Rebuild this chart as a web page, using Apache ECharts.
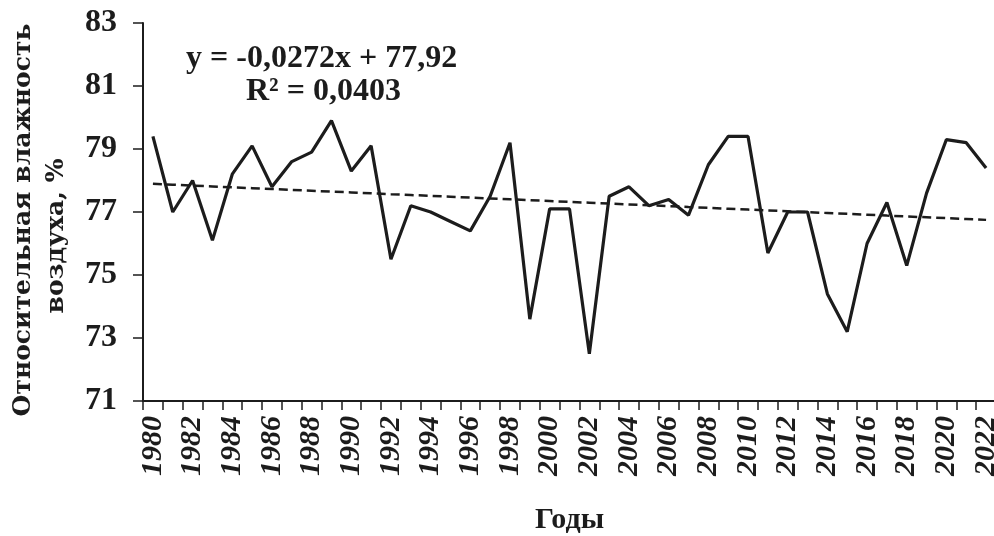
<!DOCTYPE html>
<html>
<head>
<meta charset="utf-8">
<style>
  html, body { margin: 0; padding: 0; background: #fff; }
  #chart { width: 994px; height: 536px; }
</style>
<script src="https://cdn.jsdelivr.net/npm/echarts@6/dist/echarts.min.js"></script>
</head>
<body>
<div id="chart"></div>
<script>
// Years of observation
const years = [
  '1980','1981','1982','1983','1984','1985','1986','1987','1988','1989',
  '1990','1991','1992','1993','1994','1995','1996','1997','1998','1999',
  '2000','2001','2002','2003','2004','2005','2006','2007','2008','2009',
  '2010','2011','2012','2013','2014','2015','2016','2017','2018','2019',
  '2020','2021','2022'
];

// Mean annual relative air humidity, %
const humidity = [
  79.4, 77.0, 78.0, 76.1, 78.2, 79.1, 77.8, 78.6, 78.9, 79.9,
  78.3, 79.1, 75.5, 77.2, 77.0, 76.7, 76.4, 77.5, 79.2, 73.6,
  77.1, 77.1, 72.5, 77.5, 77.8, 77.2, 77.4, 76.9, 78.5, 79.4,
  79.4, 75.7, 77.0, 77.0, 74.4, 73.2, 76.0, 77.3, 75.3, 77.6,
  79.3, 79.2, 78.4
];

// Linear trend, as given by its equation (x = 1 for the first year)
const trendSlope = -0.0272;
const trendIntercept = 77.92;
const trendEquation = 'y = -0,0272x + 77,92';
const trendR2 = 'R² = 0,0403';

// Value axis range
const yMin = 71, yMax = 83, yStep = 2;

const trend = years.map((_, i) => +(trendIntercept + trendSlope * (i + 1)).toFixed(3));

const serif = '"Liberation Serif", "Times New Roman", serif';
const ink = '#1c1c1c';

const chart = echarts.init(document.getElementById('chart'), null, { renderer: 'canvas' });

chart.setOption({
  backgroundColor: '#ffffff',
  animation: false,
  grid: {
    left: 143, top: 23, width: 853, height: 378,
    containLabel: false,
    outerBoundsMode: 'none'
  },
  xAxis: {
    type: 'category',
    data: years,
    boundaryGap: true,
    name: 'Годы',
    nameLocation: 'middle',
    nameGap: 104,
    nameTextStyle: { fontFamily: serif, fontWeight: 'bold', fontSize: 30, color: ink },
    axisLine: { lineStyle: { color: ink, width: 2 } },
    axisTick: { show: true, interval: 0, length: 9, lineStyle: { color: ink, width: 1.5 } },
    axisLabel: {
      interval: 1,
      rotate: 90,
      margin: 15,
      fontFamily: serif,
      fontStyle: 'italic',
      fontWeight: 'bold',
      fontSize: 30,
      color: ink
    },
    splitLine: { show: false }
  },
  yAxis: {
    type: 'value',
    min: yMin,
    max: yMax,
    interval: yStep,
    axisLine: { show: true, lineStyle: { color: ink, width: 2 } },
    axisTick: { show: true, length: 10, lineStyle: { color: ink, width: 1.5 } },
    axisLabel: {
      margin: 26,
      fontFamily: serif,
      fontWeight: 'bold',
      fontSize: 32,
      color: ink
    },
    splitLine: { show: false }
  },
  series: [
    {
      name: 'Относительная влажность',
      type: 'line',
      data: humidity,
      symbol: 'none',
      lineStyle: { color: ink, width: 3.2 },
      z: 3
    },
    {
      name: 'Линейный тренд',
      type: 'line',
      data: trend,
      symbol: 'none',
      lineStyle: { color: ink, width: 2.5, type: [9, 5] },
      z: 2
    }
  ],
  graphic: [
    {
      type: 'text',
      left: 186, top: 43,
      style: { text: trendEquation, font: 'bold 32px ' + serif, fill: ink }
    },
    {
      type: 'text',
      left: 246, top: 76,
      style: { text: trendR2, font: 'bold 32px ' + serif, fill: ink }
    },
    {
      type: 'text',
      x: 23, y: 220,
      rotation: Math.PI / 2,
      style: {
        text: 'Относительная влажность',
        font: 'bold 25px "DejaVu Serif", serif',
        fill: ink,
        align: 'center',
        verticalAlign: 'middle'
      }
    },
    {
      type: 'text',
      x: 56, y: 236,
      rotation: Math.PI / 2,
      style: {
        text: 'воздуха, %',
        font: 'bold 25px "DejaVu Serif", serif',
        fill: ink,
        align: 'center',
        verticalAlign: 'middle'
      }
    }
  ]
});
</script>
</body>
</html>
